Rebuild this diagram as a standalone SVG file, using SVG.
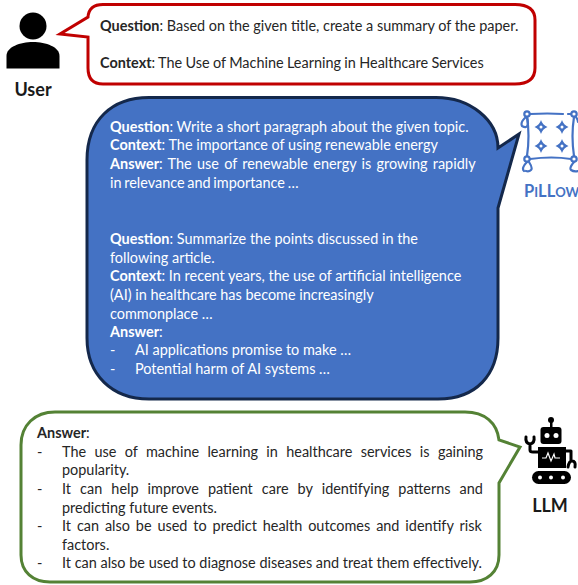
<svg xmlns="http://www.w3.org/2000/svg" width="578" height="585" viewBox="0 0 578 585">
<defs>
<g id="gem"><path d="M0-7Q1.500-2 6.500 0Q1.500 2 0 7Q-1.500 2-6.500 0Q-1.500-2 0-7Z" fill="#4472c4"/><circle r="1.500" fill="#fff"/></g>
</defs>
<style>
text{font-family:Lato,"Noto Sans",sans-serif;font-size:14.45px;fill:#262626}
.w text{fill:#fff}
.b{font-weight:700}
.lab{font-size:18px;font-weight:700;fill:#1a1a1a}
.bub{stroke-width:3;stroke-linejoin:miter}
.ic{fill:none;stroke:#4472c4;stroke-width:2.2;stroke-linecap:round}
.pl{font-size:16.500px;font-weight:700;fill:#4472c4}
.pl .s{font-size:13px}
.rb{fill:none;stroke:#000;stroke-width:3;stroke-linecap:round;stroke-linejoin:round}
</style>
<rect width="578" height="585" fill="#fff"/>
<g id="connectors"></g>
<g id="user">
<circle cx="33" cy="26" r="13.500" fill="#000"/>
<path d="M6.500 68.500V56C6.500 47 20 42 33 42S59.500 47 59.500 56V68.500Z" fill="#000"/>
<text class="lab" x="33" y="95.500" text-anchor="middle">User</text>
</g>
<g id="question-bubble">
<path class="bub" d="M103 4.500H515Q535 4.500 535 20V68Q535 84 515 84H103Q88 84 88 68V37L60 34L88 17Q89 4.500 103 4.500Z" fill="#fff" stroke="#c00000"/>
<text x="100" y="31"><tspan class="b">Question</tspan>: Based on the given title, create a summary of the paper.</text>
<text x="100" y="68" word-spacing="-0.350"><tspan class="b">Context</tspan>: The Use of Machine Learning in Healthcare Services</text>
</g>
<g id="prompt-bubble" class="w">
<path class="bub" d="M149 97.500H436C470 97.500 498 120 498 148L519 134L498 208V338C498 375 476 399 438 399H149C112 399 87 375 87 338V160C87 120 112 97.500 149 97.500Z" fill="#4472c4" stroke="#14284b"/>
<text x="110" y="132"><tspan class="b">Question</tspan>: Write a short paragraph about the given topic.</text>
<text x="110" y="150"><tspan class="b">Context</tspan>: The importance of using renewable energy</text>
<text x="110" y="169" word-spacing="1.600"><tspan class="b">Answer</tspan>: The use of renewable energy is growing rapidly</text>
<text x="110" y="188" word-spacing="-1">in relevance and importance …</text>
<text x="110" y="244"><tspan class="b">Question</tspan>: Summarize the points discussed in the</text>
<text x="110" y="263">following article.</text>
<text x="110" y="281"><tspan class="b">Context</tspan>: In recent years, the use of artificial intelligence</text>
<text x="110" y="300">(AI) in healthcare has become increasingly</text>
<text x="110" y="319">commonplace …</text>
<text x="110" y="337"><tspan class="b">Answer</tspan>:</text>
<text x="110" y="355">-</text><text x="135" y="355">AI applications promise to make …</text>
<text x="110" y="374">-</text><text x="135" y="374">Potential harm of AI systems …</text>
</g>
<g id="pillow">
<path class="ic" d="M530 114Q548 113 563 114M568 114H571M527 117Q530 136 527 156M574 117Q571 136 574 156M530 159Q552 156 571 159"/>
<circle class="ic" cx="527" cy="114" r="2.700"/><circle class="ic" cx="574" cy="114" r="2.700"/><circle class="ic" cx="527" cy="159" r="2.700"/><circle class="ic" cx="574" cy="159" r="2.700"/>
<path class="ic" d="M526 117Q520 122 522 126Q527 129 528 124Q528 120 527 117M527 162Q521 168 524 171M529 162Q533 168 531 170Q529 172 526 171M574 162Q569 168 571 170Q574 172 578 171M576 117Q578 120 578 122"/>
<use href="#gem" x="541" y="127"/><use href="#gem" x="562" y="127"/><use href="#gem" x="541" y="146"/><use href="#gem" x="562" y="146"/>
<text x="524" y="197" class="pl">P<tspan class="s">I</tspan>LL<tspan class="s">OW</tspan></text>
</g>
<g id="answer-bubble">
<path class="bub" d="M55 412H465C485 412 497 423 499 440L520 447L499 483V555C499 572 487 582 470 582H50C33 582 21 572 21 555V445C21 425 35 412 55 412Z" fill="#fff" stroke="#548235"/>
<text x="37" y="438"><tspan class="b">Answer</tspan>:</text>
<text x="37" y="457">-</text><text x="62" y="457" word-spacing="4.670">The use of machine learning in healthcare services is gaining</text>
<text x="62" y="475">popularity.</text>
<text x="37" y="494">-</text><text x="62" y="494" word-spacing="5.400">It can help improve patient care by identifying patterns and</text>
<text x="62" y="513">predicting future events.</text>
<text x="37" y="531">-</text><text x="62" y="531" word-spacing="2.200">It can also be used to predict health outcomes and identify risk</text>
<text x="62" y="550">factors.</text>
<text x="37" y="568">-</text><text x="62" y="568">It can also be used to diagnose diseases and treat them effectively.</text>
</g>
<g id="llm">
<path class="rb" d="M526 437Q525 443 530 444V450Q530 452 533 452H538M534 437Q535 443 530 444"/>
<circle cx="551" cy="420" r="3" fill="#000"/><rect x="550" y="422" width="2.500" height="6" fill="#000"/>
<rect x="540.500" y="427" width="21" height="17" rx="3" fill="#000"/>
<circle cx="547" cy="435.500" r="2.500" fill="#fff"/><circle cx="556" cy="435.500" r="2.500" fill="#fff"/>
<rect x="538" y="447" width="28" height="21" fill="#000"/>
<path d="M542 458h4l2-5 3 8 3-7 1 4h5" fill="none" stroke="#fff" stroke-width="1.200"/>
<path class="rb" d="M566 451H571V460M568 467Q569 461 572 461Q576 461 575 467"/>
<rect x="532" y="471" width="39" height="13" rx="6.500" fill="#000"/>
<circle cx="540" cy="477.500" r="2" fill="#fff"/><circle cx="551" cy="477.500" r="2" fill="#fff"/><circle cx="563" cy="477.500" r="2" fill="#fff"/>
<text class="lab" x="550" y="512" text-anchor="middle">LLM</text>
</g>
</svg>
